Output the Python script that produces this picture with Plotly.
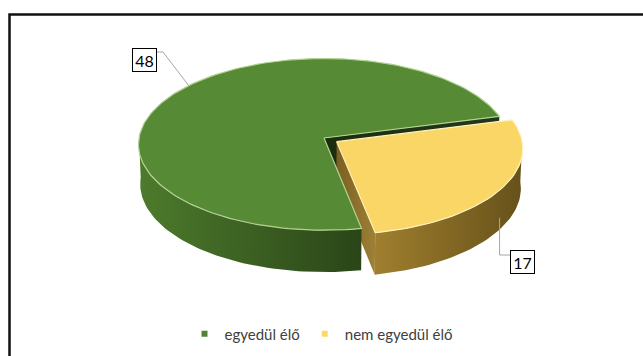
import numpy as np
import plotly.graph_objects as go

# Data
labels = ["egyedül élő", "nem egyedül élő"]
values = [48, 17]

# Styling
top_colors = ["#578a34", "#f9d666"]
side_colors = [("#4d7b2c", "#2a4518"), ("#a07f2e", "#66511a")]
wall_colors = [("#1b2d0e", "#22381a"), ("#7a5f20", "#9e8036")]
rim_colors = ["#b3d394", "#fff2bd"]
explode = [0.0, 0.08]
legend_colors = ["#548235", "#ffd966"]

W, H = 643, 356
CX, CY, SCALE = 324, 138, 185          # pie centre and radius in pixels
ELEV = np.radians(27.5)                  # viewing elevation
DIST = 12.0                              # camera distance (perspective)
THICK = 0.244                            # pie thickness (radius units)
START = 15.0                             # first slice starts here, counter-clockwise
FONT = "Lato, Calibri, Carlito, Open Sans, sans-serif"


def project(u, v, z):
    """Perspective projection of pie-space points onto pixel coordinates."""
    u, v, z = np.asarray(u, float), np.asarray(v, float), np.asarray(z, float)
    depth = DIST + v * np.cos(ELEV) - z * np.sin(ELEV)
    k = DIST / depth
    X = u * k
    Y = (v * np.sin(ELEV) + z * np.cos(ELEV)) * k
    return CX + SCALE * X, CY - SCALE * Y


def arc(t0, t1, n=None):
    if n is None:
        n = max(int(abs(t1 - t0) / 1.5), 2)
    return np.radians(np.linspace(t0, t1, n))


# slice angles from the values
total = float(sum(values))
spans = [360.0 * v / total for v in values]
bounds = []
a = START
for s in spans:
    bounds.append((a, a + s))
    a += s

walls, sides, tops = [], [], []

for i, (t0, t1) in enumerate(bounds):
    mid = np.radians((t0 + t1) / 2)
    ox, oy = explode[i] * np.cos(mid), explode[i] * np.sin(mid)

    # top face
    th = arc(t0, t1)
    u = np.concatenate([[ox], ox + np.cos(th), [ox]])
    v = np.concatenate([[oy], oy + np.sin(th), [oy]])
    px, py = project(u, v, np.zeros_like(u))
    tops.append(go.Scatter(x=px, y=py, mode="lines", fill="toself",
                           fillcolor=top_colors[i],
                           line=dict(color=rim_colors[i], width=1.2),
                           hoverinfo="text", text=f"{labels[i]}: {values[i]}",
                           showlegend=False))

    # outer side: only the front half of the rim is visible
    for k in range(-1, 3):
        lo, hi = max(t0, 180 + 360 * k), min(t1, 360 + 360 * k)
        if hi - lo <= 0.01:
            continue
        th = arc(lo, hi)
        uu = ox + np.cos(th)
        vv = oy + np.sin(th)
        xt, yt = project(uu, vv, np.zeros_like(uu))
        xb, yb = project(uu, vv, np.full_like(uu, -THICK))
        sx = np.concatenate([xt, xb[::-1], xt[:1]])
        sy = np.concatenate([yt, yb[::-1], yt[:1]])
        sides.append(go.Scatter(x=sx, y=sy, mode="lines", fill="toself",
                                fillgradient=dict(type="horizontal",
                                                  colorscale=[[0, side_colors[i][0]],
                                                              [1, side_colors[i][1]]]),
                                line=dict(width=0), hoverinfo="skip",
                                showlegend=False))

    # radial cut faces facing the viewer
    for ang, normal in ((t0, t0 - 90), (t1, t1 + 90)):
        if np.sin(np.radians(normal)) >= 0:
            continue
        r = np.radians(ang)
        uu = np.array([ox, ox + np.cos(r), ox + np.cos(r), ox, ox])
        vv = np.array([oy, oy + np.sin(r), oy + np.sin(r), oy, oy])
        zz = np.array([0, 0, -THICK, -THICK, 0])
        wx, wy = project(uu, vv, zz)
        walls.append(go.Scatter(x=wx, y=wy, mode="lines", fill="toself",
                                fillgradient=dict(type="horizontal",
                                                  colorscale=[[0, wall_colors[i][0]],
                                                              [1, wall_colors[i][1]]]),
                                line=dict(width=0), hoverinfo="skip",
                                showlegend=False))

fig = go.Figure(walls + sides + tops)

# leader lines to the value labels
LINE = dict(color="#a6a6a6", width=1)
a48 = np.radians(140.0)
ax48, ay48 = project(np.cos(a48), np.sin(a48), 0.0)
fig.add_trace(go.Scatter(x=[157, 163, float(ax48)], y=[52, 52, float(ay48)],
                         mode="lines", line=LINE, hoverinfo="skip", showlegend=False))

yt0, yt1 = bounds[1]
ymid = np.radians((yt0 + yt1) / 2)
ax17, ay17 = project(explode[1] * np.cos(ymid) + np.cos(ymid),
                     explode[1] * np.sin(ymid) + np.sin(ymid), -0.7 * THICK)
fig.add_trace(go.Scatter(x=[float(ax17), float(ax17), 510], y=[float(ay17), 255, 255],
                         mode="lines", line=LINE, hoverinfo="skip", showlegend=False))

# value labels
for val, (lx, ly) in zip(values, [(144.5, 60), (522.5, 261.5)]):
    fig.add_annotation(x=lx, y=ly, xref="x", yref="y", text=str(val), showarrow=False,
                       font=dict(family=FONT, size=16, color="#000000"),
                       bgcolor="#ffffff", bordercolor="#000000", borderwidth=1,
                       borderpad=2, width=19, height=18, align="center", valign="middle")

# legend entries
for name, col in zip(labels, legend_colors):
    fig.add_trace(go.Scatter(x=[None], y=[None], mode="markers", name=name,
                             marker=dict(symbol="square", size=6, color=col)))

# chart frame
fig.add_shape(type="rect", xref="x", yref="y", x0=9.5, y0=14.5, x1=680, y1=400,
              line=dict(color="#111111", width=2.5), fillcolor="rgba(0,0,0,0)")

fig.update_layout(
    width=W, height=H,
    margin=dict(l=0, r=0, t=0, b=0),
    paper_bgcolor="#ffffff", plot_bgcolor="#ffffff",
    xaxis=dict(range=[0, W], visible=False, fixedrange=True),
    yaxis=dict(range=[H, 0], visible=False, fixedrange=True),
    showlegend=True,
    legend=dict(orientation="h", x=0.5, xanchor="center",
                y=1 - 334 / H, yanchor="middle",
                font=dict(family=FONT, size=15, color="#404040"),
                itemwidth=30, bgcolor="rgba(0,0,0,0)"),
)

fig.write_html("out.html")
